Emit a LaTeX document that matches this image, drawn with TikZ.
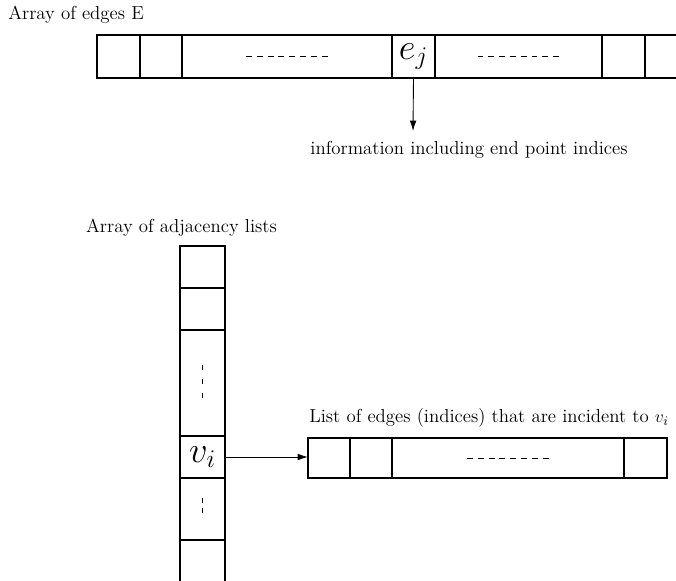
\documentclass[tikz,border=0pt]{standalone}
\usetikzlibrary{arrows.meta}
\def\pxu{0.68pt}
\tikzset{
  x=0.68pt, y=-0.68pt,
  cell/.style={draw, line width=0.8pt, inner sep=0pt, outer sep=0pt, anchor=north west},
  arr/.style={-{Latex[length=7pt,width=4.5pt]}, line width=0.6pt},
  dots/.style={line width=0.5pt, dash pattern=on 4pt off 3.35pt},
  vdots/.style={line width=0.5pt, dash pattern=on 3.5pt off 6pt},
  lbl/.style={inner sep=0pt, font=\fontsize{12.8pt}{15pt}\selectfont},
  big/.style={font=\fontsize{23pt}{27pt}\selectfont}
}
\newcommand{\cellbox}[5]{% name, x0, y0, x1, y1
  \node[cell, minimum width={(#4-#2)*\pxu}, minimum height={(#5-#3)*\pxu}] (#1) at (#2,#3) {};}
\begin{document}
\begin{tikzpicture}
\useasboundingbox (0,0) rectangle (676,581);
\clip (0,0) rectangle (676,581);
% top array of edges
\node[lbl, anchor=west] (tE) at (8,15) {Array of edges E};
\cellbox{a1}{97}{35}{140}{78}
\cellbox{a2}{140}{35}{182}{78}
\cellbox{a3}{182}{35}{392}{78}
\cellbox{ej}{392}{35}{435}{78}
\cellbox{a5}{435}{35}{602}{78}
\cellbox{a6}{602}{35}{645}{78}
\cellbox{a7}{645}{35}{700}{78}
\node[big, inner sep=0pt] at (ej.center) {$e_j$};
\draw[dots] ([xshift=-41*\pxu]a3.center) -- ([xshift=41*\pxu]a3.center);
\draw[dots] ([xshift=-41*\pxu]a5.center) -- ([xshift=41*\pxu]a5.center);
\coordinate (infotop) at (413,131);
\draw[arr] (ej.south) -- (infotop);
\node[lbl] (info) at (469,150) {information including end point indices};
% vertical array of adjacency lists
\node[lbl] (tA) at (181.5,228) {Array of adjacency lists};
\cellbox{b1}{180}{246}{225}{288}
\cellbox{b2}{180}{288}{225}{330}
\cellbox{b3}{180}{330}{225}{436}
\cellbox{vi}{180}{436}{225}{478}
\cellbox{b5}{180}{478}{225}{540}
\cellbox{b6}{180}{540}{225}{600}
\node[big, inner sep=0pt] at (vi.center) {$v_i$};
\draw[vdots] ([yshift=18*\pxu]b3.center) -- ([yshift=-18*\pxu]b3.center);
\draw[line width=0.5pt, dash pattern=on 3.5pt off 3pt] ([yshift=11*\pxu]b5.center) -- ([yshift=-6*\pxu]b5.center);
% list of incident edges
\node[lbl] (tL) at (489,418) {List of edges (indices) that are incident to $v_i$};
\cellbox{l1}{308}{438}{350}{478}
\cellbox{l2}{350}{438}{392}{478}
\cellbox{l3}{392}{438}{624}{478}
\cellbox{l4}{624}{438}{667}{478}
\draw[dots] ([xshift=-41*\pxu]l3.center) -- ([xshift=41*\pxu]l3.center);
\draw[arr] (vi.east) -- (vi.east -| l1.west);
\end{tikzpicture}
\end{document}
